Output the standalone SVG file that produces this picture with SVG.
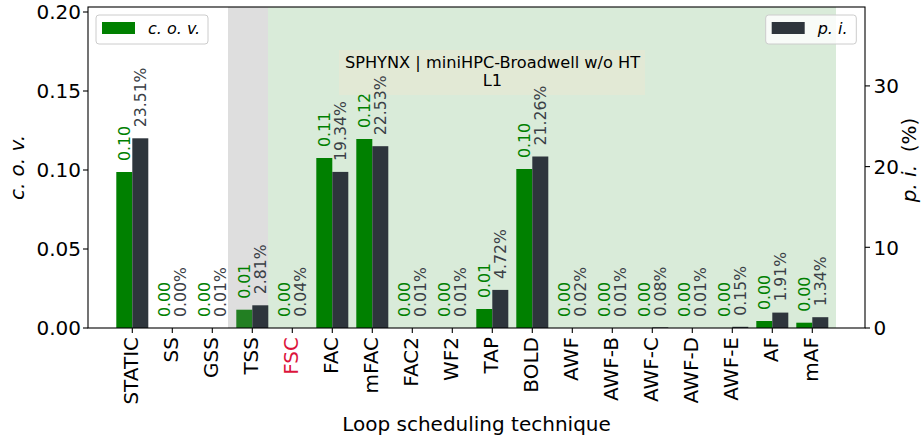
<svg xmlns="http://www.w3.org/2000/svg" width="924" height="436" viewBox="0 0 924 436">
<style>
text{font-family:"DejaVu Sans","Liberation Sans",sans-serif;}
.tick{font-size:20px;fill:#000;}
.val{font-size:15.7px;}
.vg{fill:#008000;}
.vd{fill:#3a4046;}
.bg{fill:#008000;}
.bd{fill:#2e353c;}
.it{font-style:italic;}
.tk{stroke:#000;stroke-width:1.1;}
</style>
<rect x="0" y="0" width="924" height="436" fill="#ffffff"/>
<g id="spans">
<rect x="228" y="7" width="40" height="321" fill="#dedede"/>
<rect x="268" y="7" width="568" height="321" fill="#d9ebd9"/>
</g>
<g id="title">
<rect x="339" y="50" width="306" height="45" fill="#e2e9d5"/>
<text x="492.5" y="67.7" font-size="16.2" text-anchor="middle" fill="#000">SPHYNX | miniHPC-Broadwell w/o HT</text>
<text x="492.5" y="86.3" font-size="16.2" text-anchor="middle" fill="#000">L1</text>
</g>
<g id="bars">
<g id="STATIC"><rect class="bg" x="116.3" y="172" width="16" height="156"/><rect class="bd" x="132.3" y="138.3" width="16" height="189.7"/>
<text class="val vg" transform="translate(129.8,161) rotate(-90)">0.10</text><text class="val vd" transform="translate(145.8,127.3) rotate(-90)">23.51%</text></g>
<g id="SS"><text class="val vg" transform="translate(169.8,317) rotate(-90)">0.00</text><text class="val vd" transform="translate(185.8,317) rotate(-90)">0.00%</text></g>
<g id="GSS"><text class="val vg" transform="translate(209.8,317) rotate(-90)">0.00</text><text class="val vd" transform="translate(225.8,317) rotate(-90)">0.01%</text></g>
<g id="TSS"><rect x="236.3" y="309.7" width="16" height="18.3" fill="#227f22"/><rect class="bd" x="252.3" y="305.3" width="16" height="22.7"/>
<text class="val vg" transform="translate(249.8,298.7) rotate(-90)">0.01</text><text class="val vd" transform="translate(265.8,294.3) rotate(-90)">2.81%</text></g>
<g id="FSC"><text class="val vg" transform="translate(289.8,317) rotate(-90)">0.00</text><text class="val vd" transform="translate(305.8,316.7) rotate(-90)">0.04%</text></g>
<g id="FAC"><rect class="bg" x="316.3" y="158" width="16" height="170"/><rect class="bd" x="332.3" y="171.9" width="16" height="156.1"/>
<text class="val vg" transform="translate(329.8,147) rotate(-90)">0.11</text><text class="val vd" transform="translate(345.8,160.9) rotate(-90)">19.34%</text></g>
<g id="mFAC"><rect class="bg" x="356.3" y="139" width="16" height="189"/><rect class="bd" x="372.3" y="146.2" width="16" height="181.8"/>
<text class="val vg" transform="translate(369.8,128) rotate(-90)">0.12</text><text class="val vd" transform="translate(385.8,135.2) rotate(-90)">22.53%</text></g>
<g id="FAC2"><text class="val vg" transform="translate(409.8,317) rotate(-90)">0.00</text><text class="val vd" transform="translate(425.8,317) rotate(-90)">0.01%</text></g>
<g id="WF2"><text class="val vg" transform="translate(449.8,317) rotate(-90)">0.00</text><text class="val vd" transform="translate(465.8,317) rotate(-90)">0.01%</text></g>
<g id="TAP"><rect class="bg" x="476.3" y="309" width="16" height="19"/><rect class="bd" x="492.3" y="289.9" width="16" height="38.1"/>
<text class="val vg" transform="translate(489.8,298) rotate(-90)">0.01</text><text class="val vd" transform="translate(505.8,278.9) rotate(-90)">4.72%</text></g>
<g id="BOLD"><rect class="bg" x="516.3" y="169" width="16" height="159"/><rect class="bd" x="532.3" y="156.5" width="16" height="171.5"/>
<text class="val vg" transform="translate(529.8,158) rotate(-90)">0.10</text><text class="val vd" transform="translate(545.8,145.5) rotate(-90)">21.26%</text></g>
<g id="AWF"><text class="val vg" transform="translate(569.8,317) rotate(-90)">0.00</text><text class="val vd" transform="translate(585.8,316.8) rotate(-90)">0.02%</text></g>
<g id="AWF-B"><text class="val vg" transform="translate(609.8,317) rotate(-90)">0.00</text><text class="val vd" transform="translate(625.8,317) rotate(-90)">0.01%</text></g>
<g id="AWF-C"><rect class="bd" x="652.3" y="327.35" width="16" height="0.65"/><text class="val vg" transform="translate(649.8,317) rotate(-90)">0.00</text><text class="val vd" transform="translate(665.8,316.4) rotate(-90)">0.08%</text></g>
<g id="AWF-D"><text class="val vg" transform="translate(689.8,317) rotate(-90)">0.00</text><text class="val vd" transform="translate(705.8,317) rotate(-90)">0.01%</text></g>
<g id="AWF-E"><rect class="bd" x="732.3" y="326.8" width="16" height="1.2"/><text class="val vg" transform="translate(729.8,317) rotate(-90)">0.00</text><text class="val vd" transform="translate(745.8,315.8) rotate(-90)">0.15%</text></g>
<g id="AF"><rect class="bg" x="756.3" y="321" width="16" height="7"/><rect class="bd" x="772.3" y="312.6" width="16" height="15.4"/>
<text class="val vg" transform="translate(769.8,310) rotate(-90)">0.00</text><text class="val vd" transform="translate(785.8,301.6) rotate(-90)">1.91%</text></g>
<g id="mAF"><rect class="bg" x="796.3" y="322.7" width="16" height="5.3"/><rect class="bd" x="812.3" y="317.2" width="16" height="10.8"/>
<text class="val vg" transform="translate(809.8,311.7) rotate(-90)">0.00</text><text class="val vd" transform="translate(825.8,306.2) rotate(-90)">1.34%</text></g>
</g>
<g id="axes">
<rect x="88" y="7" width="777" height="321" fill="none" stroke="#000" stroke-width="1.1"/>
<g id="xticks" class="tk">
<line x1="132.3" y1="328" x2="132.3" y2="333"/><line x1="172.3" y1="328" x2="172.3" y2="333"/><line x1="212.3" y1="328" x2="212.3" y2="333"/><line x1="252.3" y1="328" x2="252.3" y2="333"/><line x1="292.3" y1="328" x2="292.3" y2="333"/><line x1="332.3" y1="328" x2="332.3" y2="333"/><line x1="372.3" y1="328" x2="372.3" y2="333"/><line x1="412.3" y1="328" x2="412.3" y2="333"/><line x1="452.3" y1="328" x2="452.3" y2="333"/><line x1="492.3" y1="328" x2="492.3" y2="333"/><line x1="532.3" y1="328" x2="532.3" y2="333"/><line x1="572.3" y1="328" x2="572.3" y2="333"/><line x1="612.3" y1="328" x2="612.3" y2="333"/><line x1="652.3" y1="328" x2="652.3" y2="333"/><line x1="692.3" y1="328" x2="692.3" y2="333"/><line x1="732.3" y1="328" x2="732.3" y2="333"/><line x1="772.3" y1="328" x2="772.3" y2="333"/><line x1="812.3" y1="328" x2="812.3" y2="333"/>
</g>
<g id="yticks" class="tk">
<line x1="83" y1="328" x2="88" y2="328"/><line x1="83" y1="249" x2="88" y2="249"/><line x1="83" y1="170" x2="88" y2="170"/><line x1="83" y1="91" x2="88" y2="91"/><line x1="83" y1="12" x2="88" y2="12"/>
<line x1="865" y1="328" x2="870" y2="328"/><line x1="865" y1="247.3" x2="870" y2="247.3"/><line x1="865" y1="166.6" x2="870" y2="166.6"/><line x1="865" y1="85.9" x2="870" y2="85.9"/>
</g>
<g id="xlabels" class="tick" text-anchor="end">
<text transform="translate(137.6,337) rotate(-90)">STATIC</text>
<text transform="translate(177.6,337) rotate(-90)">SS</text>
<text transform="translate(217.6,337) rotate(-90)">GSS</text>
<text transform="translate(257.6,337) rotate(-90)">TSS</text>
<text transform="translate(297.6,337) rotate(-90)" style="fill:#dc143c">FSC</text>
<text transform="translate(337.6,337) rotate(-90)">FAC</text>
<text transform="translate(377.6,337) rotate(-90)">mFAC</text>
<text transform="translate(417.6,337) rotate(-90)">FAC2</text>
<text transform="translate(457.6,337) rotate(-90)">WF2</text>
<text transform="translate(497.6,337) rotate(-90)">TAP</text>
<text transform="translate(537.6,337) rotate(-90)">BOLD</text>
<text transform="translate(577.6,337) rotate(-90)">AWF</text>
<text transform="translate(617.6,337) rotate(-90)">AWF-B</text>
<text transform="translate(657.6,337) rotate(-90)">AWF-C</text>
<text transform="translate(697.6,337) rotate(-90)">AWF-D</text>
<text transform="translate(737.6,337) rotate(-90)">AWF-E</text>
<text transform="translate(777.6,337) rotate(-90)">AF</text>
<text transform="translate(817.6,337) rotate(-90)">mAF</text>
</g>
<g id="ylabels-left" class="tick" text-anchor="end">
<text x="81" y="335.3">0.00</text>
<text x="81" y="256.3">0.05</text>
<text x="81" y="177.3">0.10</text>
<text x="81" y="98.3">0.15</text>
<text x="81" y="19.3">0.20</text>
</g>
<g id="ylabels-right" class="tick" text-anchor="start">
<text x="873.5" y="335.3">0</text>
<text x="873.5" y="254.6">10</text>
<text x="873.5" y="173.9">20</text>
<text x="873.5" y="93.2">30</text>
</g>
<text class="tick" x="476.5" y="430.5" text-anchor="middle">Loop scheduling technique</text>
<text class="tick it" transform="translate(23.5,167.5) rotate(-90)" text-anchor="middle">c. o. v.</text>
<text class="tick" transform="translate(915.5,160) rotate(-90)" text-anchor="middle"><tspan class="it">p. i.</tspan>&#160;&#160;(%)</text>
</g>
<g id="legend-cov">
<rect x="96" y="15" width="112" height="29" rx="3" fill="#ffffff" fill-opacity="0.8" stroke="#cccccc" stroke-width="1"/>
<rect x="102" y="22" width="33" height="12" fill="#008000"/>
<text x="148" y="33.5" font-size="16" class="it" fill="#000">c. o. v.</text>
</g>
<g id="legend-pi">
<rect x="765.7" y="15" width="90.6" height="29" rx="3" fill="#ffffff" fill-opacity="0.8" stroke="#cccccc" stroke-width="1"/>
<rect x="771.7" y="22" width="33" height="12" fill="#2e353c"/>
<text x="817.7" y="33.5" font-size="16" class="it" fill="#000">p. i.</text>
</g>
</svg>
